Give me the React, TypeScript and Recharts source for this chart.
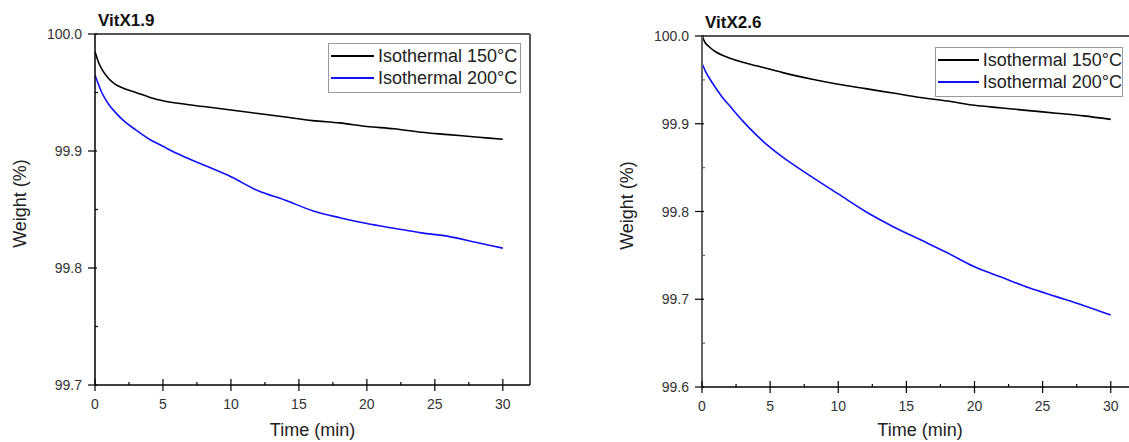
import { Legend, Line, LineChart, ReferenceLine, XAxis, YAxis } from 'recharts';

// time axis (min), shared by all four curves
const time = [0, 0.25, 0.5, 1, 1.5, 2, 3, 4, 5, 6, 8, 10, 12, 14, 16, 18, 20, 22, 24, 26, 28, 30];

// VitX1.9
const vitx19Iso150 = [
  99.985, 99.976, 99.97, 99.962, 99.957, 99.954, 99.95, 99.946, 99.943, 99.941, 99.938, 99.935, 99.932,
  99.929, 99.926, 99.924, 99.921, 99.919, 99.916, 99.914, 99.912, 99.91,
];
const vitx19Iso200 = [
  99.965, 99.957, 99.95, 99.94, 99.933, 99.927, 99.918, 99.91, 99.904, 99.898, 99.888, 99.878, 99.866,
  99.858, 99.849, 99.843, 99.838, 99.834, 99.83, 99.827, 99.822, 99.817,
];

// VitX2.6
const vitx26Iso150 = [
  100.0, 99.992, 99.988, 99.982, 99.978, 99.975, 99.97, 99.966, 99.962, 99.958, 99.951, 99.945, 99.94,
  99.935, 99.93, 99.926, 99.921, 99.918, 99.915, 99.912, 99.909, 99.905,
];
const vitx26Iso200 = [
  99.969, 99.96, 99.953, 99.941, 99.93, 99.921, 99.903, 99.887, 99.873, 99.861, 99.84, 99.82, 99.8,
  99.783, 99.768, 99.753, 99.737, 99.725, 99.713, 99.703, 99.693, 99.682,
];

const xTicks = [0, 2.5, 5, 7.5, 10, 12.5, 15, 17.5, 20, 22.5, 25, 27.5, 30];
const yTicks19 = [99.7, 99.75, 99.8, 99.85, 99.9, 99.95, 100.0];
const yTicks26 = [99.6, 99.65, 99.7, 99.75, 99.8, 99.85, 99.9, 99.95, 100.0];

const FONT = '"Liberation Sans", Arial, sans-serif';
const FRAME = '#555';

const isMajor = (v: number, step: number) => Math.abs(v / step - Math.round(v / step)) < 1e-6;

function YTick({ x, y, payload, stroke }: any) {
  const major = isMajor(payload.value, 0.1);
  return (
    <g>
      {major ? (
        <line x1={x - 7} x2={x + 2} y1={y} y2={y} stroke="#000" strokeWidth={1.2} />
      ) : (
        <line x1={x} x2={x + 3} y1={y} y2={y} stroke={stroke} strokeWidth={1.2} />
      )}
      {major && (
        <text x={x - 13} y={y} dy={5} textAnchor="end" fontSize={14} fill="#333" fontFamily={FONT}>
          {payload.value.toFixed(1)}
        </text>
      )}
    </g>
  );
}

function XTick({ x, y, payload }: any) {
  const major = isMajor(payload.value, 5);
  return (
    <g>
      {major ? (
        <line x1={x} x2={x} y1={y - 6} y2={y + 6} stroke="#000" strokeWidth={1.2} />
      ) : (
        <line x1={x} x2={x} y1={y - 3} y2={y} stroke="#000" strokeWidth={1.2} />
      )}
      {major && (
        <text x={x} y={y + 24} textAnchor="middle" fontSize={14} fill="#333" fontFamily={FONT}>
          {payload.value}
        </text>
      )}
    </g>
  );
}

function LegendBox({ payload }: any) {
  return (
    <div
      style={{
        border: '1px solid #999',
        background: '#fff',
        padding: '1px 0 3px 2px',
        fontFamily: FONT,
        fontSize: 18,
        color: '#222',
      }}
    >
      {payload.map((p: any) => (
        <div key={p.value} style={{ display: 'flex', alignItems: 'center', height: 22 }}>
          <span style={{ display: 'inline-block', width: 43, height: 0, borderTop: `2px solid ${p.color}` }} />
          <span style={{ marginLeft: 4, whiteSpace: 'nowrap' }}>{p.value}</span>
        </div>
      ))}
    </div>
  );
}

type PanelProps = {
  title: string;
  iso150: number[];
  iso200: number[];
  yTicks: number[];
  left: number;
  top: number;
  axisWidth: number;
  rightMargin: number;
  axisHeight: number;
  axisColor: string;
  labelOffset: number;
  showRightFrame: boolean;
  legendPos: { left: number; top: number; width: number };
};

function Panel(p: PanelProps) {
  const data = time.map((t, i) => ({ t, iso150: p.iso150[i], iso200: p.iso200[i] }));
  const yMin = p.yTicks[0];
  const yMax = p.yTicks[p.yTicks.length - 1];
  return (
    <div style={{ position: 'absolute', left: p.left, top: 0 }}>
      <LineChart
        width={560}
        height={442}
        data={data}
        margin={{ top: p.top, right: p.rightMargin, bottom: 0, left: 0 }}
      >
        <XAxis
          dataKey="t"
          type="number"
          domain={[0, 32]}
          ticks={xTicks}
          allowDataOverflow
          height={p.axisHeight}
          tickSize={0}
          tickMargin={0}
          tickLine={false}
          axisLine={{ stroke: '#000', strokeWidth: 1.5 }}
          tick={<XTick />}
          interval={0}
          label={{
            value: 'Time (min)',
            position: 'insideBottom',
            offset: 6,
            fontSize: 18,
            fill: '#222',
            fontFamily: FONT,
          }}
        />
        <YAxis
          type="number"
          domain={[yMin, yMax]}
          ticks={p.yTicks}
          allowDataOverflow
          width={p.axisWidth}
          tickSize={0}
          tickMargin={0}
          tickLine={false}
          axisLine={{ stroke: p.axisColor, strokeWidth: p.showRightFrame ? 1.5 : 2 }}
          tick={<YTick stroke={p.axisColor} />}
          interval={0}
          label={{
            value: 'Weight (%)',
            angle: -90,
            position: 'insideLeft',
            offset: p.labelOffset,
            dy: -6,
            fontSize: 18,
            fill: '#222',
            fontFamily: FONT,
            style: { textAnchor: 'middle' },
          }}
        />
        <ReferenceLine y={yMax} stroke={FRAME} strokeWidth={2} ifOverflow="extendDomain" />
        {p.showRightFrame && <ReferenceLine x={32} stroke={FRAME} strokeWidth={2} />}
        <Line
          dataKey="iso150"
          name="Isothermal 150°C"
          type="monotone"
          stroke="#000"
          strokeWidth={1.6}
          dot={false}
          isAnimationActive={false}
        />
        <Line
          dataKey="iso200"
          name="Isothermal 200°C"
          type="monotone"
          stroke="#1010ff"
          strokeWidth={1.6}
          dot={false}
          isAnimationActive={false}
        />
        <Legend
          layout="vertical"
          align="center"
          verticalAlign="middle"
          content={<LegendBox />}
          wrapperStyle={{ ...p.legendPos, height: 'auto' }}
        />
        <text
          x={p.axisWidth + 3}
          y={p.top - 8}
          fontSize={17}
          fontWeight="bold"
          fill="#111"
          fontFamily={FONT}
        >
          {p.title}
        </text>
      </LineChart>
    </div>
  );
}

export default function App() {
  return (
    <div
      style={{
        position: 'absolute',
        left: 0,
        top: 0,
        width: 1129,
        height: 442,
        overflow: 'hidden',
        background: '#fff',
      }}
    >
      <Panel
        title="VitX1.9"
        iso150={vitx19Iso150}
        iso200={vitx19Iso200}
        yTicks={yTicks19}
        left={0}
        top={34}
        axisWidth={95}
        rightMargin={30}
        axisHeight={57}
        axisColor="#000"
        labelOffset={20}
        showRightFrame
        legendPos={{ left: 328, top: 43, width: 193 }}
      />
      <Panel
        title="VitX2.6"
        iso150={vitx26Iso150}
        iso200={vitx26Iso200}
        yTicks={yTicks26}
        left={600}
        top={36}
        axisWidth={102}
        rightMargin={22}
        axisHeight={55}
        axisColor="#666"
        labelOffset={27}
        showRightFrame={false}
        legendPos={{ left: 335, top: 47, width: 188 }}
      />
    </div>
  );
}
